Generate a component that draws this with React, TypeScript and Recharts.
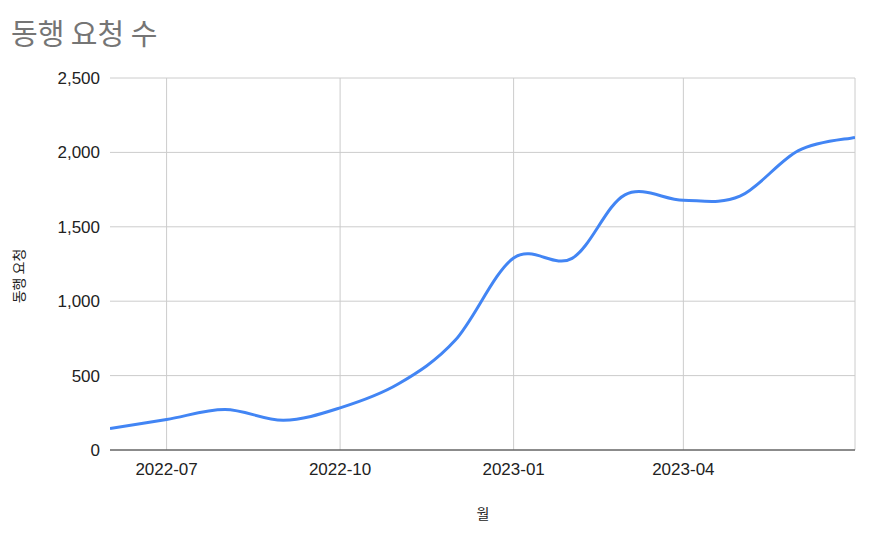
import React from 'react';
import { LineChart, Line, XAxis, YAxis, CartesianGrid } from 'recharts';

const months = [
  '2022-06', '2022-07', '2022-08', '2022-09', '2022-10', '2022-11', '2022-12',
  '2023-01', '2023-02', '2023-03', '2023-04', '2023-05', '2023-06', '2023-07',
];
const requests = [145, 205, 272, 200, 283, 445, 737, 1290, 1288, 1715, 1678, 1706, 2012, 2101];
const xTickMonths = ['2022-07', '2022-10', '2023-01', '2023-04', '2023-07'];
const xTickLabels = ['2022-07', '2022-10', '2023-01', '2023-04', ''];
const yTicks = [0, 500, 1000, 1500, 2000, 2500];

const toTime = (m: string) => {
  const [y, mo] = m.split('-').map(Number);
  return Date.UTC(y, mo - 1, 1);
};

const data = months.map((m, i) => ({ t: toTime(m), v: requests[i] }));
const xTicks = xTickMonths.map(toTime);
const xDomain = [toTime('2022-06'), toTime('2023-07')];

// Catmull-Rom style smooth curve (similar to Google Charts "function" curve)
function smoothCurve(context: any) {
  let pts: number[][] = [];
  return {
    areaStart() {},
    areaEnd() {},
    lineStart() {
      pts = [];
    },
    lineEnd() {
      const n = pts.length;
      if (!n) return;
      context.moveTo(pts[0][0], pts[0][1]);
      for (let i = 0; i < n - 1; i++) {
        const p0 = pts[Math.max(i - 1, 0)];
        const p1 = pts[i];
        const p2 = pts[i + 1];
        const p3 = pts[Math.min(i + 2, n - 1)];
        const c1x = p1[0] + (p2[0] - p0[0]) / 6;
        const c1y = p1[1] + (p2[1] - p0[1]) / 6;
        const c2x = p2[0] - (p3[0] - p1[0]) / 6;
        const c2y = p2[1] - (p3[1] - p1[1]) / 6;
        context.bezierCurveTo(c1x, c1y, c2x, c2y, p2[0], p2[1]);
      }
    },
    point(x: number, y: number) {
      pts.push([+x, +y]);
    },
  };
}

const verticalGen = (props: any) => {
  const { xAxis, offset } = props;
  if (xAxis && typeof xAxis.scale === 'function') {
    return xTicks.map((t) => xAxis.scale(t));
  }
  return xTicks.map(
    (t) => offset.left + ((t - xDomain[0]) / (xDomain[1] - xDomain[0])) * offset.width
  );
};

const FONT = "Arial, 'Liberation Sans', 'Noto Sans CJK KR', sans-serif";

export default function App() {
  return (
    <div
      style={{
        position: 'fixed',
        left: 0,
        top: 0,
        width: 872,
        height: 538,
        background: '#ffffff',
        fontFamily: FONT,
      }}
    >
      <div
        style={{
          position: 'absolute',
          left: 11,
          top: 12,
          fontSize: 29,
          color: '#757575',
          fontFamily: "'Noto Sans CJK KR', sans-serif",
          lineHeight: '40px',
          whiteSpace: 'nowrap',
        }}
      >
        동행 요청 수
      </div>
      <div
        style={{
          position: 'absolute',
          left: 18,
          top: 276,
          transform: 'translate(-50%, -50%) rotate(-90deg)',
          fontSize: 14,
          color: '#222',
          fontFamily: "'Noto Sans CJK KR', sans-serif",
          whiteSpace: 'nowrap',
        }}
      >
        동행 요청
      </div>
      <div
        style={{
          position: 'absolute',
          left: 483,
          top: 513,
          transform: 'translate(-50%, -50%)',
          fontSize: 14,
          color: '#222',
          fontFamily: "'Noto Sans CJK KR', sans-serif",
          whiteSpace: 'nowrap',
        }}
      >
        월
      </div>
      <div style={{ position: 'absolute', left: 0, top: 0 }}>
        <LineChart
          width={872}
          height={538}
          data={data}
          margin={{ top: 78, right: 17, bottom: 48, left: 10 }}
        >
          <CartesianGrid
            stroke="#cccccc"
            strokeWidth={1}
            verticalCoordinatesGenerator={verticalGen}
          />
          <XAxis
            dataKey="t"
            type="number"
            domain={xDomain}
            ticks={xTicks}
            tickFormatter={(v: number) => xTickLabels[xTicks.indexOf(v)] ?? ''}
            tickLine={false}
            tickSize={0}
            tickMargin={12.5}
            axisLine={{ stroke: '#333333', strokeWidth: 1.2 }}
            tick={{ fill: '#222222', fontSize: 17, fontFamily: FONT }}
            height={40}
            interval={0}
            allowDataOverflow
          />
          <YAxis
            type="number"
            domain={[0, 2500]}
            ticks={yTicks}
            tickFormatter={(v: number) => v.toLocaleString('en-US')}
            axisLine={false}
            tickLine={false}
            tickSize={0}
            tickMargin={10}
            width={100}
            tick={{ fill: '#222222', fontSize: 17, fontFamily: FONT }}
            interval={0}
          />
          <Line
            type={smoothCurve as any}
            dataKey="v"
            stroke="#4285f4"
            strokeWidth={3}
            dot={false}
            activeDot={false}
            isAnimationActive={false}
          />
        </LineChart>
      </div>
    </div>
  );
}
